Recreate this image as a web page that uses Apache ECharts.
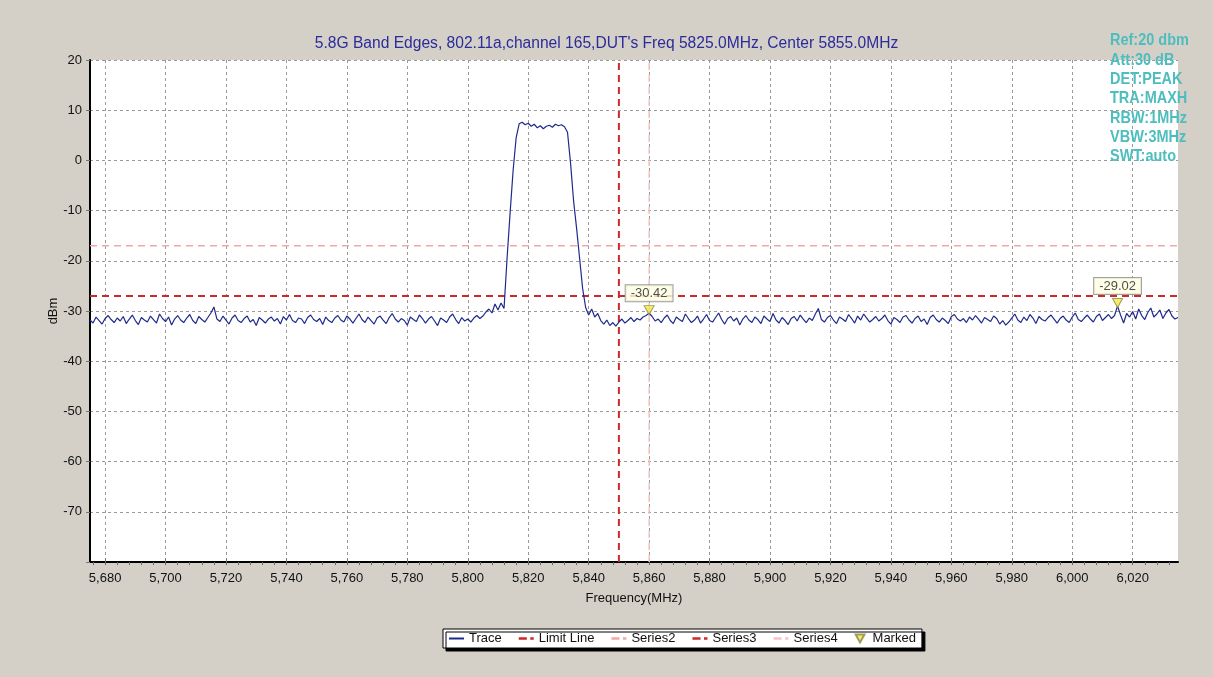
<!DOCTYPE html>
<html>
<head>
<meta charset="utf-8">
<script src="https://cdn.jsdelivr.net/npm/echarts@6/dist/echarts.min.js"></script>
<style>
html, body { margin: 0; padding: 0; background: #d4d0c8; }
#chart { width: 1213px; height: 677px; }
</style>
</head>
<body>
<div id="chart"></div>
<script>
// spectrum trace, one reading per MHz starting at 5675 MHz
var traceStartMHz = 5675;
var traceStepMHz = 1;
var traceDbm = [
    -31.8,-32.4,-31.2,-31.9,-32.6,-31.5,-30.9,-31.7,-32.3,-31.4, // 5675
    -32.0,-31.1,-32.5,-31.6,-30.8,-31.9,-32.7,-31.3,-31.8,-32.2, // 5685
    -31.0,-31.7,-32.4,-30.6,-31.5,-32.1,-31.2,-32.8,-31.6,-30.9, // 5695
    -31.8,-32.3,-31.4,-30.7,-31.9,-32.5,-31.1,-31.7,-32.2,-31.3, // 5705
    -30.4,-29.2,-31.6,-32.1,-31.0,-31.8,-32.6,-31.4,-30.8,-31.9, // 5715
    -32.3,-31.5,-31.0,-32.2,-31.7,-32.9,-31.3,-31.8,-32.4,-31.6, // 5725
    -31.2,-32.0,-31.5,-32.6,-31.1,-31.8,-30.7,-31.9,-32.3,-31.4, // 5735
    -31.6,-32.5,-31.3,-30.8,-31.7,-32.1,-31.5,-32.7,-31.2,-31.9, // 5745
    -32.3,-31.4,-30.9,-31.8,-32.2,-31.0,-31.6,-32.4,-31.5,-30.6, // 5755
    -31.7,-32.3,-31.2,-31.9,-32.6,-31.4,-31.0,-31.8,-32.5,-31.3, // 5765
    -30.5,-31.6,-32.2,-31.5,-31.9,-32.8,-31.2,-31.7,-32.1,-30.8, // 5775
    -31.5,-32.4,-31.6,-31.1,-32.0,-32.9,-31.4,-31.8,-32.3,-31.2, // 5785
    -30.6,-31.7,-32.5,-31.3,-32.0,-31.6,-32.2,-31.4,-30.9,-31.5, // 5795
    -31.0,-30.2,-29.6,-30.4,-28.6,-29.8,-28.4,-29.5,-19.5,-10.5, // 5805
    -2.0,4.5,7.3,7.6,7.1,7.4,6.8,7.2,6.5,6.9,                    // 5815
    6.3,6.8,7.0,6.6,7.2,6.9,7.1,6.7,5.6,-0.5,                    // 5825
    -8.0,-13.5,-19.5,-25.5,-29.3,-30.8,-29.6,-31.2,-30.5,-31.9,  // 5835
    -32.6,-31.8,-32.9,-32.3,-33.0,-32.2,-31.6,-32.4,-31.9,-31.3, // 5845
    -32.1,-31.5,-31.8,-31.2,-30.9,-30.42,-31.1,-32.0,-31.6,-32.3, // 5855
    -31.4,-30.8,-31.9,-32.5,-31.2,-31.7,-32.1,-30.6,-31.5,-32.3, // 5865
    -31.8,-31.0,-32.4,-31.6,-30.7,-31.9,-32.2,-31.3,-30.4,-31.7, // 5875
    -32.6,-31.5,-31.1,-32.0,-31.4,-32.8,-31.6,-30.9,-31.8,-32.3, // 5885
    -31.2,-31.7,-32.5,-31.0,-31.6,-32.1,-30.5,-31.8,-32.4,-31.3, // 5895
    -31.9,-32.7,-31.5,-31.1,-32.0,-30.8,-31.6,-32.3,-31.4,-31.9, // 5905
    -30.6,-29.5,-31.7,-32.2,-31.3,-30.9,-31.8,-32.5,-31.2,-31.6, // 5915
    -32.1,-30.7,-31.5,-32.4,-31.0,-31.8,-30.6,-31.4,-32.2,-31.7, // 5925
    -31.1,-32.0,-31.5,-30.8,-31.9,-32.6,-31.3,-31.7,-32.3,-31.2, // 5935
    -30.9,-31.8,-32.4,-31.5,-31.0,-32.1,-31.6,-32.7,-31.3,-30.8, // 5945
    -31.7,-32.2,-31.4,-31.9,-32.5,-31.1,-30.7,-31.6,-32.0,-31.5, // 5955
    -32.3,-31.2,-31.8,-30.9,-31.6,-32.4,-31.3,-31.7,-32.1,-31.0, // 5965
    -31.5,-32.6,-31.9,-32.8,-32.2,-31.4,-30.6,-31.8,-32.3,-31.2, // 5975
    -31.9,-30.7,-31.4,-32.5,-31.1,-31.7,-32.0,-31.3,-30.8,-31.6, // 5985
    -32.4,-31.5,-31.0,-31.8,-32.3,-31.2,-30.4,-31.7,-32.1,-31.4, // 5995
    -30.8,-31.6,-32.2,-31.1,-30.6,-31.9,-31.3,-30.7,-31.5,-30.9, // 6005
    -29.02,-30.8,-32.4,-30.5,-31.2,-30.1,-31.6,-29.6,-30.9,-31.7, // 6015
    -30.3,-29.4,-31.2,-30.6,-29.8,-31.5,-30.4,-29.7,-31.0,-31.6, // 6025
    -31.3                                                         // 6035
];

var spanMHz = [5675, 6035];
var levelDbm = [-80, 20];
var freqTicks = [5680,5700,5720,5740,5760,5780,5800,5820,5840,5860,5880,5900,5920,5940,5960,5980,6000,6020];

var limitLineDbm = -27;   // Limit Line
var series2Dbm = -17;     // Series2
var series3MHz = 5850;    // Series3
var series4MHz = 5860;    // Series4

var markedMHz = [5860, 6015];
var markedDbm = [-30.42, -29.02];

var infoLines = ['Ref:20 dbm', 'Att:30 dB', 'DET:PEAK', 'TRA:MAXH', 'RBW:1MHz', 'VBW:3MHz', 'SWT:auto'];

var font = '"Liberation Sans", Arial, sans-serif';

// legend glyphs: a solid stroke, a dash-dot stroke, a down triangle
var solidIcon = 'path://M0,0 L15,0 L15,2 L0,2 Z';
var dashIcon = 'path://M1,0 L8,0 L8,2 L1,2 Z M11,0 L14,0 L14,2 L11,2 Z';
var triIcon = 'path://M0,0 L10,0 L5,9 Z';

// small ticks under the frequency axis, 4 MHz apart
var minorTicks = [];
freqTicks.forEach(function (f) { minorTicks.push(f - 4, f, f + 4, f + 8, f + 12); });
minorTicks.push(6028, 6032);

var trace = traceDbm.map(function (v, i) { return [traceStartMHz + i * traceStepMHz, v]; });
var marked = markedMHz.map(function (f, i) { return [f, markedDbm[i]]; });

var dom = document.getElementById('chart');
var myChart = echarts.init(dom, null, { renderer: 'canvas' });
var option = {
    animation: false,
    backgroundColor: '#d4d0c8',
    textStyle: { fontFamily: font },
    title: {
        text: "5.8G Band Edges, 802.11a,channel 165,DUT's Freq 5825.0MHz, Center 5855.0MHz",
        left: 'center',
        top: 31,
        textStyle: { color: '#2b2b9a', fontSize: 15.6, fontWeight: 'normal', fontFamily: font }
    },
    graphic: [{
        type: 'text',
        left: 1110,
        top: 31,
        z: 100,
        scaleY: 1.15,
        style: {
            text: infoLines.join('\n'),
            fill: '#4dbdbd',
            font: 'bold 14.5px ' + font,
            lineHeight: 16.8
        }
    }],
    legend: {
        left: 443,
        top: 629,
        itemWidth: 15,
        itemHeight: 8,
        itemGap: 17,
        padding: [3, 6, 3, 6],
        backgroundColor: '#fff',
        borderColor: '#000',
        borderWidth: 1,
        shadowColor: '#000',
        shadowBlur: 0,
        shadowOffsetX: 3,
        shadowOffsetY: 3,
        textStyle: { fontSize: 13, color: '#111', fontFamily: font },
        data: [
            { name: 'Trace', icon: solidIcon },
            { name: 'Limit Line', icon: dashIcon },
            { name: 'Series2', icon: dashIcon },
            { name: 'Series3', icon: dashIcon },
            { name: 'Series4', icon: dashIcon },
            { name: 'Marked', icon: triIcon }
        ]
    },
    grid: {
        left: 90,
        right: 35,
        top: 60,
        bottom: 115,
        show: true,
        backgroundColor: '#fff',
        borderWidth: 0
    },
    xAxis: [{
        type: 'value',
        min: spanMHz[0],
        max: spanMHz[1],
        name: 'Frequency(MHz)',
        nameLocation: 'middle',
        nameGap: 30,
        nameMoveOverlap: false,
        nameTextStyle: { fontSize: 13, color: '#111' },
        axisLine: { onZero: false, lineStyle: { color: '#000', width: 2 } },
        axisTick: { customValues: freqTicks, inside: true, length: 4, lineStyle: { color: '#777' } },
        axisLabel: {
            customValues: freqTicks,
            fontSize: 13,
            color: '#111',
            margin: 10,
            formatter: function (v) { return v.toLocaleString('en-US'); }
        },
        splitLine: { show: true, lineStyle: { color: '#9a9a9a', type: [3, 3], width: 1 } }
    }, {
        type: 'value',
        position: 'bottom',
        min: spanMHz[0],
        max: spanMHz[1],
        axisLine: { show: false, onZero: false },
        axisTick: { show: true, customValues: minorTicks, length: 3, lineStyle: { color: '#666' } },
        axisLabel: { show: false, customValues: minorTicks },
        splitLine: { show: false }
    }],
    yAxis: {
        type: 'value',
        min: levelDbm[0],
        max: levelDbm[1],
        interval: 10,
        name: 'dBm',
        nameLocation: 'middle',
        nameGap: 30,
        nameMoveOverlap: false,
        nameTextStyle: { fontSize: 13, color: '#111' },
        axisLine: { show: true, onZero: false, lineStyle: { color: '#000', width: 2 } },
        axisTick: { show: true, length: 4, lineStyle: { color: '#777' } },
        axisLabel: {
            fontSize: 13,
            color: '#111',
            margin: 8,
            formatter: function (v) { return v === levelDbm[0] ? '' : String(v); }
        },
        splitLine: { show: true, lineStyle: { color: '#9a9a9a', type: [3, 3], width: 1 } }
    },
    series: [
        {
            name: 'Trace',
            type: 'line',
            data: trace,
            symbol: 'none',
            z: 5,
            lineStyle: { color: '#1f2a8c', width: 1.2 },
            itemStyle: { color: '#1f2a8c' }
        },
        {
            name: 'Limit Line',
            type: 'line',
            data: [[spanMHz[0], limitLineDbm], [spanMHz[1], limitLineDbm]],
            symbol: 'none',
            z: 3,
            lineStyle: { color: '#cc2a2a', width: 2, type: [7, 5] },
            itemStyle: { color: '#cc2a2a' }
        },
        {
            name: 'Series2',
            type: 'line',
            data: [[spanMHz[0], series2Dbm], [spanMHz[1], series2Dbm]],
            symbol: 'none',
            z: 3,
            lineStyle: { color: '#f0a8a8', width: 1.5, type: [7, 5] },
            itemStyle: { color: '#f0a8a8' }
        },
        {
            name: 'Series3',
            type: 'line',
            data: [[series3MHz, levelDbm[0]], [series3MHz, levelDbm[1]]],
            symbol: 'none',
            z: 3,
            lineStyle: { color: '#cc2a2a', width: 2, type: [7, 5] },
            itemStyle: { color: '#cc2a2a' }
        },
        {
            name: 'Series4',
            type: 'line',
            data: [[series4MHz, levelDbm[0]], [series4MHz, levelDbm[1]]],
            symbol: 'none',
            z: 3,
            lineStyle: { color: '#f6c4c4', width: 1.5, type: [7, 5] },
            itemStyle: { color: '#f6c4c4' }
        },
        {
            name: 'Marked',
            type: 'scatter',
            data: marked,
            z: 6,
            symbol: triIcon,
            symbolSize: [10, 9],
            symbolOffset: [0, -3],
            itemStyle: { color: '#f2e64a', borderColor: '#8a8a40', borderWidth: 1 },
            label: {
                show: true,
                position: 'top',
                distance: 4,
                formatter: function (p) { return p.value[1].toFixed(2); },
                backgroundColor: '#ffffe4',
                borderColor: '#8a8a8a',
                borderWidth: 1,
                padding: [2, 5, 1, 5],
                fontSize: 13,
                color: '#222'
            }
        }
    ]
};
if (option && typeof option === 'object') {
    myChart.setOption(option, true);
}
</script>
</body>
</html>
